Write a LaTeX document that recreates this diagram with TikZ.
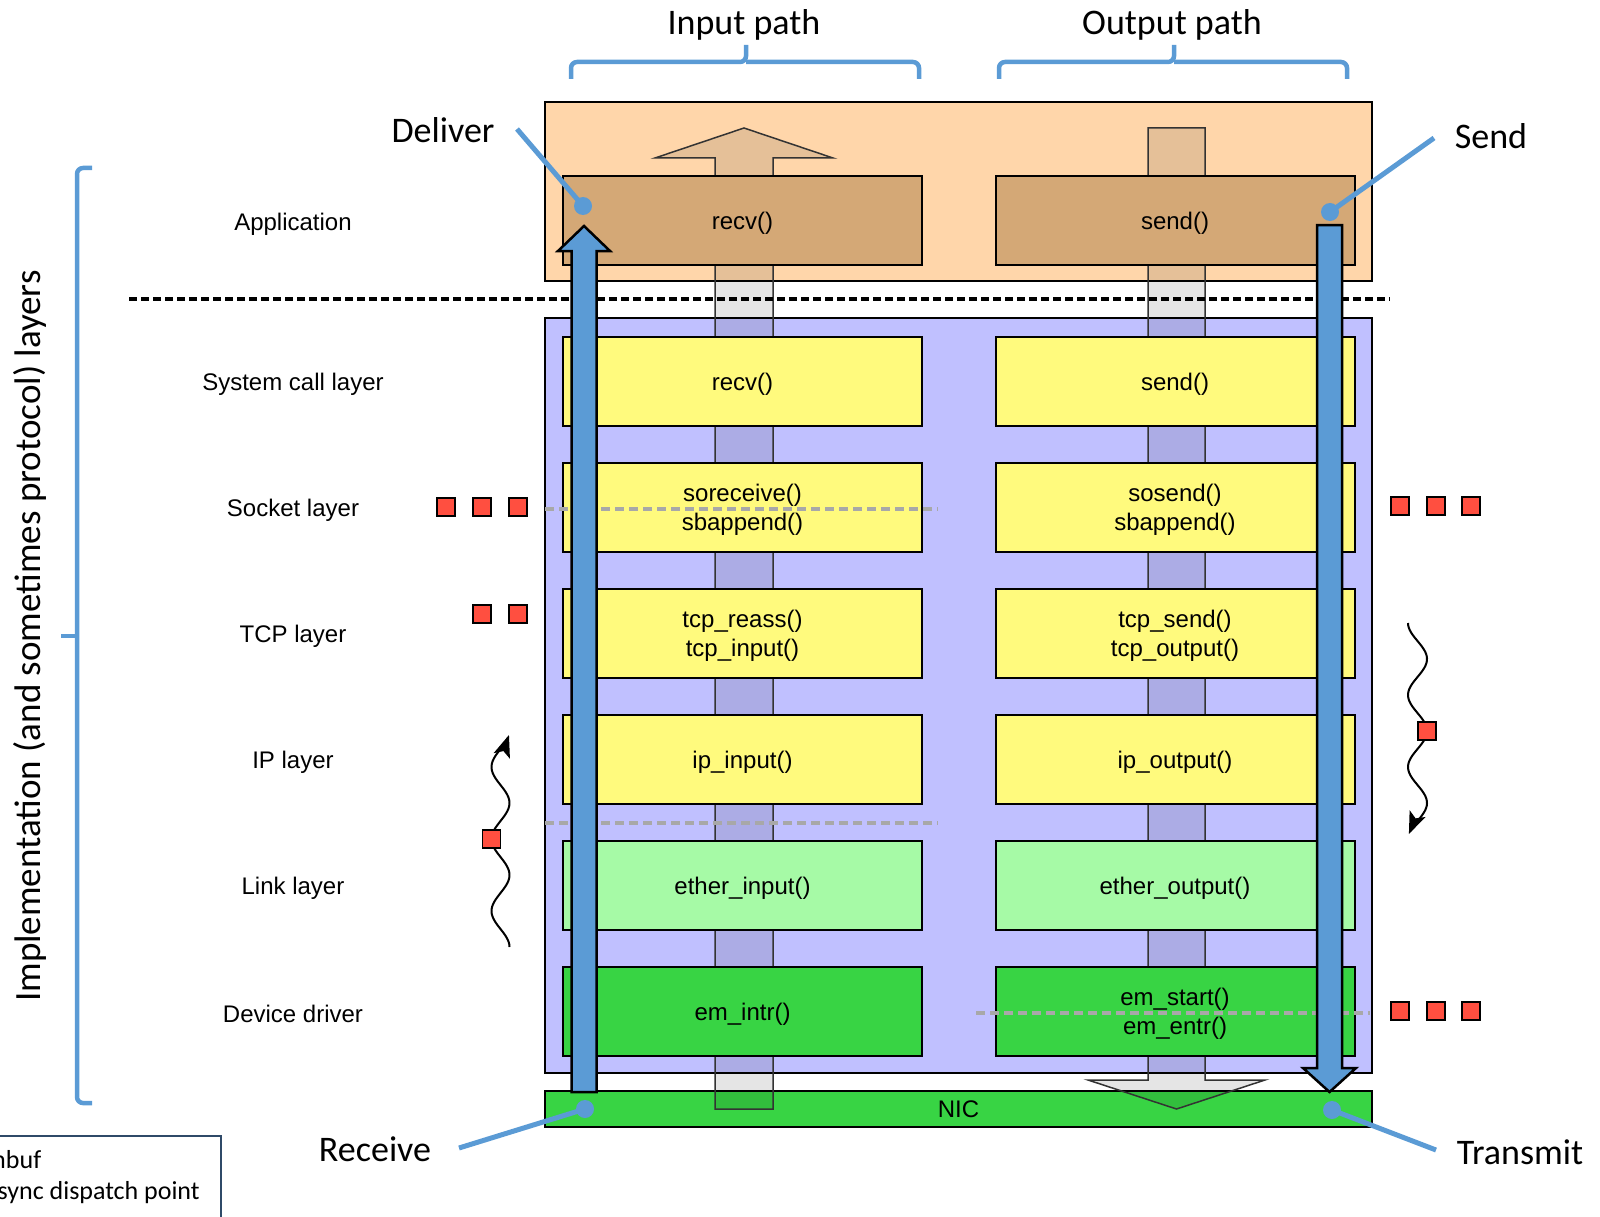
\documentclass[tikz,border=0pt]{standalone}
\usepackage{fontspec}
\setmainfont{Liberation Sans}
\newfontfamily\calibri{Carlito}
\usetikzlibrary{arrows.meta}
\definecolor{appbg}{HTML}{FFD6AA}
\definecolor{appbox}{HTML}{D4A876}
\definecolor{kernbg}{HTML}{C0C0FF}
\definecolor{ylw}{HTML}{FFFA7D}
\definecolor{ltgreen}{HTML}{A6FAA6}
\definecolor{dkgreen}{HTML}{38D444}
\definecolor{accblue}{HTML}{5B9BD5}
\definecolor{sqred}{HTML}{FF4F40}
\definecolor{asyncgray}{HTML}{A8A8A8}
\definecolor{legendborder}{HTML}{2F4A68}
\begin{document}
\begin{tikzpicture}[x=1pt,y=-1pt,
  bgbox/.style={draw=black, line width=2.5pt, inner sep=0pt, minimum width=827pt},
  boxtext/.style={align=center, inner sep=0pt, yshift=-3pt, font=\fontsize{24}{29}\selectfont},
  layerbox/.style={draw=black, line width=2pt, minimum width=359pt, minimum height=89pt, inner sep=0pt, label={[boxtext]center:{#1}}},
  layerlabel/.style={font=\fontsize{24}{29}\selectfont, yshift=-3pt},
  biglabel/.style={font=\calibri\fontsize{36}{43}\selectfont},
  stem/.style={fill=black, fill opacity=0.1, draw=black!80, line width=1.5pt},
  bluearrow/.style={fill=accblue, draw=black, line width=2.5pt, line join=miter},
  mbufsq/.style={draw=black, fill=sqred, line width=1.5pt, minimum size=18pt, inner sep=0pt},
  asyncline/.style={draw=asyncgray, line width=3.5pt, dash pattern=on 9pt off 5pt},
  kernline/.style={draw=black, line width=4.5pt, dash pattern=on 7.5pt off 4.5pt},
  labelline/.style={draw=accblue, line width=5pt},
  brace/.style={draw=accblue, line width=4.5pt, rounded corners=6pt},
  squig/.style={draw=black, line width=2pt, -{Stealth[length=22pt,width=17pt,inset=5pt]}},
]
\useasboundingbox (0,0) rectangle (1600,1217);
\clip (0,0) rectangle (1600,1217);

% background regions
\node[bgbox, fill=appbg, minimum height=179pt] (appreg) at (958.5,191.5) {};
\node[bgbox, fill=kernbg, minimum height=755pt] (kernreg) at (958.5,695.5) {};
\node[bgbox, fill=dkgreen, minimum height=36pt, font=\fontsize{24}{29}\selectfont] (nic) at (958.5,1109) {NIC};

% data-flow stems
\draw[stem] (715,1109) -- (715,158) -- (655,158) -- (744,128) -- (833,158) -- (773,158) -- (773,1109) -- cycle;
\draw[stem] (1148,128) -- (1205,128) -- (1205,1080) -- (1265,1080) -- (1176.5,1109) -- (1088,1080) -- (1148,1080) -- cycle;

% layer boxes, input path
\node[layerbox={recv()}, fill=appbox] (inapp) at (742.5,220.5) {};
\node[layerbox={recv()}, fill=ylw] (insys) at (742.5,381) {};
\node[layerbox={soreceive()\\sbappend()}, fill=ylw] (insock) at (742.5,507) {};
\node[layerbox={tcp\_reass()\\tcp\_input()}, fill=ylw] (intcp) at (742.5,633) {};
\node[layerbox={ip\_input()}, fill=ylw] (inip) at (742.5,759) {};
\node[layerbox={ether\_input()}, fill=ltgreen] (inlink) at (742.5,885) {};
\node[layerbox={em\_intr()}, fill=dkgreen] (indev) at (742.5,1011) {};
% layer boxes, output path
\node[layerbox={send()}, fill=appbox] (outapp) at (1175,220.5) {};
\node[layerbox={send()}, fill=ylw] (outsys) at (1175,381) {};
\node[layerbox={sosend()\\sbappend()}, fill=ylw] (outsock) at (1175,507) {};
\node[layerbox={tcp\_send()\\tcp\_output()}, fill=ylw] (outtcp) at (1175,633) {};
\node[layerbox={ip\_output()}, fill=ylw] (outip) at (1175,759) {};
\node[layerbox={ether\_output()}, fill=ltgreen] (outlink) at (1175,885) {};
\node[layerbox={em\_start()\\em\_entr()}, fill=dkgreen] (outdev) at (1175,1011) {};

% layer names
\node[layerlabel] (lapp) at (293,221) {Application};
\node[layerlabel] (lsys) at (293,381) {System call layer};
\node[layerlabel] (lsock) at (293,507) {Socket layer};
\node[layerlabel] (ltcp) at (293,633) {TCP layer};
\node[layerlabel] (lip) at (293,759) {IP layer};
\node[layerlabel] (llink) at (293,885) {Link layer};
\node[layerlabel] (ldev) at (293,1011) {Device driver};

% async dispatch lines
\draw[asyncline] (545,509) -- (938,509);
\draw[asyncline] (545,823) -- (938,823);
\draw[asyncline] (976,1013) -- (1370,1013);

% user/kernel boundary
\draw[kernline] (129,299) -- (1390,299);

% big blue arrows
\draw[bluearrow] (571.5,1092) -- (571.5,251) -- (558,251) -- (584,226) -- (610,251) -- (596.5,251) -- (596.5,1092) -- cycle;
\draw[bluearrow] (1317,225) -- (1342,225) -- (1342,1068) -- (1356,1068) -- (1329.5,1092) -- (1303,1068) -- (1317,1068) -- cycle;

% mbuf squares
\foreach \px [count=\i] in {446,482,518} \node[mbufsq] (sqls\i) at (\px,507) {};
\foreach \px [count=\i] in {482,518} \node[mbufsq] (sqlt\i) at (\px,614) {};
\foreach \px [count=\i] in {1400,1436,1471} \node[mbufsq] (sqrs\i) at (\px,506) {};
\foreach \px [count=\i] in {1400,1436,1471} \node[mbufsq] (sqrd\i) at (\px,1011) {};

% squiggly async arrows
\draw[squig] plot[domain=947:735, samples=90] ({500.5+9*cos(5*(947-\x))}, \x);
\node[mbufsq] (sqsl) at (491.5,839) {};
\draw[squig] plot[domain=623:834, samples=90] ({1417.5-9.5*cos(5*(\x-623))}, \x);
\node[mbufsq] (sqsr) at (1427,731) {};

% callouts
\node[biglabel] (deliver) at (443,130) {Deliver};
\node[biglabel] (send) at (1491,136) {Send};
\node[biglabel] (receive) at (375,1149) {Receive};
\node[biglabel] (transmit) at (1520,1152) {Transmit};
\coordinate (dlA) at (517,129);   \coordinate (dlB) at (583,206);
\coordinate (snA) at (1434,138);  \coordinate (snB) at (1330,212);
\coordinate (rcA) at (459,1148);  \coordinate (rcB) at (585,1109);
\coordinate (txA) at (1436,1150); \coordinate (txB) at (1332,1110);
\draw[labelline] (dlA) -- (dlB);
\draw[labelline] (snA) -- (snB);
\draw[labelline] (rcA) -- (rcB);
\draw[labelline] (txA) -- (txB);
\foreach \c in {dlB,snB,rcB,txB} \fill[accblue] (\c) circle (9pt);

% path headings and braces
\node[biglabel] (inpath) at (744,25) {Input path};
\node[biglabel] (outpath) at (1172,25) {Output path};
\draw[brace] (571,79) |- (746,62) -- (746,45);
\draw[brace] (919,79) |- (746,62);
\draw[brace] (999,79) |- (1174,62) -- (1174,45);
\draw[brace] (1347,79) |- (1174,62);

% left brace and rotated title
\draw[brace] (92,168) -| (77,1103) -- (92,1103);
\draw[brace] (61,636) -- (77,636);
\node[font=\calibri\fontsize{37}{44}\selectfont, rotate=90] (impl) at (30,636) {Implementation (and sometimes protocol) layers};

% legend (cut by the picture edge, as in the reference)
\draw[legendborder, line width=2.5pt] (-20,1136) rectangle (221,1240);
\node[font=\calibri\fontsize{26}{31}\selectfont, anchor=west, inner sep=0pt] (lgmbuf) at (-15,1160) {mbuf};
\node[font=\calibri\fontsize{26}{31}\selectfont, anchor=west, inner sep=0pt] (lgasync) at (-15,1193) {async dispatch point};
\end{tikzpicture}
\end{document}
